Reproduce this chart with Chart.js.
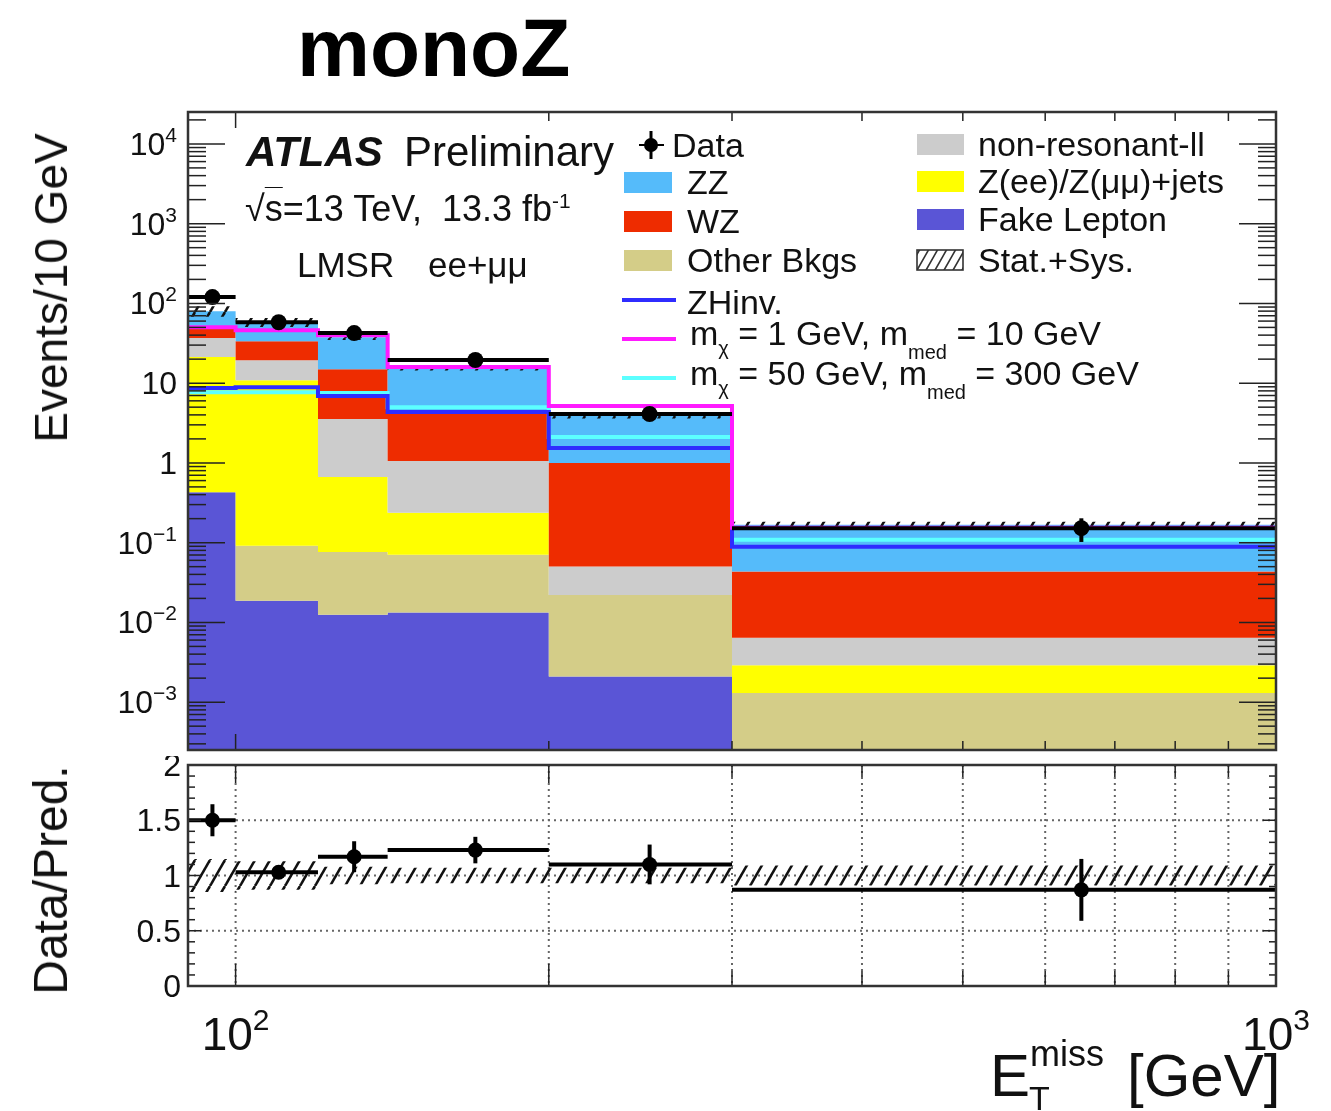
<!DOCTYPE html>
<html>
<head>
<meta charset="utf-8">
<title>monoZ</title>
<script src="https://cdn.jsdelivr.net/npm/chart.js@4.4.1/dist/chart.umd.min.js"></script>
<style>
  html, body { margin: 0; padding: 0; background: #fff; }
  body {
    position: relative; width: 1331px; height: 1111px; overflow: hidden;
    font-family: "Liberation Sans", Arial, Helvetica, sans-serif; color: #111;
  }
  canvas { position: absolute; left: 0; }
  #mainCanvas { top: 0; }
  #ratioCanvas { top: 756px; }
  .txt { position: absolute; white-space: nowrap; line-height: 1; }
  .vert {
    position: absolute; white-space: nowrap; line-height: 1;
    transform: translate(-50%, -50%) rotate(-90deg);
  }
  .sup { position: relative; top: -0.6em; font-size: 0.58em; vertical-align: baseline; }
  .subx { position: relative; top: 10px; font-size: 20px; vertical-align: baseline; }
  .subm { position: relative; top: 14px; font-size: 20px; vertical-align: baseline; }
  .sw { position: absolute; }
</style>
</head>
<body>
<canvas id="mainCanvas" width="1331" height="758"></canvas>
<canvas id="ratioCanvas" width="1331" height="355"></canvas>
<script>
// --- Binning and yields (events / 10 GeV) ---
const binEdges   = [90, 100, 120, 140, 200, 300, 1000];
const fakeLepton = [0.43, 0.0187, 0.0125, 0.0133, 0.0021, 0];
const otherBkgs  = [0, 0.073, 0.064, 0.057, 0.020, 0.0013];
const zJets      = [20.8, 10.8, 0.59, 0.166, 0, 0.0016];
const nonResLL   = [15.5, 8.5, 2.89, 0.82, 0.028, 0.0035];
const wzBkg      = [15.2, 14.1, 11.4, 3.29, 0.95, 0.037];
const zzBkg      = [28.0, 24.6, 22.8, 11.1, 2.87, 0.124];
const systRel    = [0.15, 0.13, 0.08, 0.07, 0.07, 0.09];

// signal hypotheses
const zhInv   = [8.7, 8.9, 6.9, 4.35, 1.54, 0.089];
const sigMx1  = [50.4, 46.2, 40.0, 15.9, 5.17, 0.154];
const sigMx50 = [7.7, 7.7, 7.5, 5.0, 2.11, 0.109];

// observed
const dataVals  = [120, 58, 42.4, 19.5, 4.1, 0.152];
const dataErr   = [12, 6, 5, 2.2, 0.7, 0.05];
const ratioVals = [1.50, 1.03, 1.17, 1.23, 1.10, 0.87];
const ratioErr  = [0.145, 0.06, 0.14, 0.12, 0.18, 0.28];

// axis ticks
const yDecades    = [-3, -2, -1, 0, 1, 2, 3, 4];
const ratioTicks  = [0, 0.5, 1, 1.5, 2];
const ratioLabels = ['0', '0.5', '1', '1.5', '2'];
const xDecades    = [2, 3];

// colours
const colFake  = '#5a55d6';
const colOther = '#d4cd88';
const colZjets = '#ffff00';
const colNonRes = '#cccccc';
const colWZ    = '#ee2c00';
const colZZ    = '#55bbfa';
const colZH    = '#2f2cff';
const colMx1   = '#ff1aff';
const colMx50  = '#5cffff';

const FONT = '"Liberation Sans", Arial, Helvetica, sans-serif';
const FLOOR = 1e-5; // log axis can't take zero

const binCentres = binEdges.slice(1).map((hi, i) => (binEdges[i] + hi) / 2);

// turn per-bin values into a step outline
function steps(vals) {
  const pts = [];
  vals.forEach(function(v, i) {
    const y = Math.max(v, FLOOR);
    pts.push({x: binEdges[i], y: y});
    pts.push({x: binEdges[i + 1], y: y});
  });
  return pts;
}

// stacked background tops
const components = [
  {label: 'Fake Lepton', vals: fakeLepton, color: colFake},
  {label: 'Other Bkgs', vals: otherBkgs, color: colOther},
  {label: 'Z(ee)/Z(μμ)+jets', vals: zJets, color: colZjets},
  {label: 'non-resonant-ll', vals: nonResLL, color: colNonRes},
  {label: 'WZ', vals: wzBkg, color: colWZ},
  {label: 'ZZ', vals: zzBkg, color: colZZ}
];
let running = zzBkg.map(() => 0);
const stackTops = components.map(function(c) {
  running = running.map((r, i) => r + c.vals[i]);
  return running.slice();
});
const total = stackTops[stackTops.length - 1];

function hatchPattern(ctx) {
  const tile = document.createElement('canvas');
  tile.width = 15; tile.height = 26;
  const t = tile.getContext('2d');
  t.strokeStyle = '#111';
  t.lineWidth = 2.6;
  for (let k = -1; k <= 1; k++) {
    t.beginPath();
    t.moveTo(k * 15, 26);
    t.lineTo(k * 15 + 15, 0);
    t.stroke();
  }
  return ctx.createPattern(tile, 'repeat');
}

function line(ctx, x1, y1, x2, y2) {
  ctx.beginPath(); ctx.moveTo(x1, y1); ctx.lineTo(x2, y2); ctx.stroke();
}

// "10^n" label, right edge at xRight, centred on yMid
function drawPow(ctx, exp, xRight, yMid) {
  ctx.fillStyle = '#111';
  ctx.textAlign = 'right';
  ctx.textBaseline = 'alphabetic';
  if (exp === 0 || exp === 1) {
    ctx.font = '32px ' + FONT;
    ctx.fillText(exp === 0 ? '1' : '10', xRight, yMid + 11);
    return;
  }
  const sup = exp < 0 ? '\u2212' + (-exp) : String(exp);
  ctx.font = '21px ' + FONT;
  const sw = ctx.measureText(sup).width;
  ctx.fillText(sup, xRight, yMid - 2);
  ctx.font = '32px ' + FONT;
  ctx.fillText('10', xRight - sw, yMid + 11);
}

// data points: horizontal bin-width bar plus vertical error
const dataBars = {
  id: 'dataBars',
  afterDatasetsDraw(chart, args, opts) {
    const {ctx, scales: {x, y}} = chart;
    ctx.save();
    ctx.strokeStyle = '#000';
    ctx.lineWidth = opts.width;
    opts.values.forEach(function(v, i) {
      const py = y.getPixelForValue(v);
      line(ctx, x.getPixelForValue(binEdges[i]), py, x.getPixelForValue(binEdges[i + 1]), py);
      const px = x.getPixelForValue(binCentres[i]);
      line(ctx, px, y.getPixelForValue(v + opts.errors[i]), px, y.getPixelForValue(v - opts.errors[i]));
    });
    ctx.restore();
  }
};

// ATLAS-style frame with inward ticks on all sides
const mainAxes = {
  id: 'mainAxes',
  afterDraw(chart) {
    const {ctx, chartArea: ca, scales: {x, y}} = chart;
    ctx.save();
    ctx.strokeStyle = '#222';
    ctx.lineWidth = 1.5;
    for (let d = -4; d <= 4; d++) {
      for (let m = 1; m <= 9; m++) {
        const v = m * Math.pow(10, d);
        if (v < y.min || v > y.max) continue;
        const py = y.getPixelForValue(v);
        const len = m === 1 ? 37 : 18;
        line(ctx, ca.left, py, ca.left + len, py);
        line(ctx, ca.right - len, py, ca.right, py);
      }
    }
    for (let d = 1; d <= 3; d++) {
      for (let m = 1; m <= 9; m++) {
        const v = m * Math.pow(10, d);
        if (v <= x.min || v >= x.max) continue;
        const px = x.getPixelForValue(v);
        const len = m === 1 ? 16 : 9;
        line(ctx, px, ca.top, px, ca.top + len);
        line(ctx, px, ca.bottom - len, px, ca.bottom);
      }
    }
    ctx.lineWidth = 2.5;
    ctx.strokeStyle = '#333';
    ctx.strokeRect(ca.left, ca.top, ca.right - ca.left, ca.bottom - ca.top);
    yDecades.forEach(function(d) {
      drawPow(ctx, d, 177, y.getPixelForValue(Math.pow(10, d)));
    });
    ctx.restore();
  }
};

const ratioAxes = {
  id: 'ratioAxes',
  beforeDatasetsDraw(chart) {
    const {ctx, chartArea: ca, scales: {x, y}} = chart;
    ctx.save();
    ctx.strokeStyle = '#666';
    ctx.lineWidth = 2;
    ctx.setLineDash([2, 4]);
    for (let v = 100; v < 1000; v += 100) {
      const px = x.getPixelForValue(v);
      line(ctx, px, ca.top, px, ca.bottom);
    }
    [0.5, 1, 1.5].forEach(function(v) {
      const py = y.getPixelForValue(v);
      line(ctx, ca.left, py, ca.right, py);
    });
    ctx.restore();
  },
  afterDraw(chart) {
    const {ctx, chartArea: ca, scales: {x, y}} = chart;
    ctx.save();
    ctx.strokeStyle = '#222';
    ctx.lineWidth = 1.5;
    for (let i = 1; i < 20; i++) {
      const py = y.getPixelForValue(i / 10);
      const len = i % 5 === 0 ? 13 : 7;
      line(ctx, ca.left, py, ca.left + len, py);
      line(ctx, ca.right - len, py, ca.right, py);
    }
    for (let d = 1; d <= 3; d++) {
      for (let m = 1; m <= 9; m++) {
        const v = m * Math.pow(10, d);
        if (v <= x.min || v >= x.max) continue;
        const px = x.getPixelForValue(v);
        const major = m === 1 || v === 200;
        line(ctx, px, ca.top, px, ca.top + (major ? 18 : 12));
        line(ctx, px, ca.bottom - (major ? 22 : 15), px, ca.bottom);
      }
    }
    ctx.lineWidth = 2.5;
    ctx.strokeStyle = '#333';
    ctx.strokeRect(ca.left, ca.top, ca.right - ca.left, ca.bottom - ca.top);

    ctx.fillStyle = '#111';
    ctx.font = '32px ' + FONT;
    ctx.textAlign = 'right';
    ratioTicks.forEach(function(v, i) {
      ctx.fillText(ratioLabels[i], 181, y.getPixelForValue(v) + 11);
    });

    // x tick labels 10^2, 10^3
    xDecades.forEach(function(d) {
      const px = x.getPixelForValue(Math.pow(10, d));
      ctx.font = '46px ' + FONT;
      const bw = ctx.measureText('10').width;
      ctx.font = '30px ' + FONT;
      const sw = ctx.measureText(String(d)).width;
      const left = px - (bw + sw) / 2;
      ctx.textAlign = 'left';
      ctx.font = '46px ' + FONT;
      ctx.fillText('10', left, 294);
      ctx.font = '30px ' + FONT;
      ctx.fillText(String(d), left + bw, 274);
    });
    ctx.restore();
  }
};

// --- upper panel ---
const mainCtx = document.getElementById('mainCanvas').getContext('2d');
const hatchMain = hatchPattern(mainCtx);

const stackSets = components.map(function(c, i) {
  return {
    label: c.label,
    data: steps(stackTops[i]),
    backgroundColor: c.color,
    borderWidth: 0,
    pointRadius: 0,
    fill: i === 0 ? 'start' : '-1',
    order: 10 - i
  };
});

new Chart(mainCtx, {
  type: 'line',
  data: {
    datasets: stackSets.concat([
      {
        label: 'Stat.+Sys.',
        data: steps(total.map((t, i) => t * (1 + systRel[i]))),
        backgroundColor: hatchMain,
        borderWidth: 0, pointRadius: 0, fill: '+1', order: 3
      },
      {
        label: 'band low',
        data: steps(total.map((t, i) => t * (1 - systRel[i]))),
        borderWidth: 0, pointRadius: 0, fill: false, order: 3
      },
      { label: 'ZHinv.', data: steps(zhInv), borderColor: colZH, borderWidth: 4, pointRadius: 0, fill: false, order: 2 },
      { label: 'mx 50', data: steps(sigMx50), borderColor: colMx50, borderWidth: 4, pointRadius: 0, fill: false, order: 2 },
      { label: 'mx 1', data: steps(sigMx1), borderColor: colMx1, borderWidth: 4, pointRadius: 0, fill: false, order: 1 },
      {
        label: 'Data',
        data: dataVals.map((v, i) => ({x: binCentres[i], y: v})),
        showLine: false,
        pointRadius: 8,
        pointBackgroundColor: '#000',
        pointBorderWidth: 0,
        order: 0
      }
    ])
  },
  options: {
    responsive: false,
    animation: false,
    events: [],
    layout: { padding: { left: 188, top: 112, right: 55, bottom: 7 } },
    plugins: {
      legend: { display: false },
      tooltip: { enabled: false },
      dataBars: { values: dataVals, errors: dataErr, width: 4 }
    },
    scales: {
      x: { type: 'logarithmic', min: 90, max: 1000, display: false },
      y: { type: 'logarithmic', min: Math.pow(10, -3.6), max: Math.pow(10, 4.4), display: false }
    },
    elements: { line: { tension: 0 } }
  },
  plugins: [dataBars, mainAxes]
});

// --- ratio panel ---
const ratioCtx = document.getElementById('ratioCanvas').getContext('2d');
const hatchRatio = hatchPattern(ratioCtx);

new Chart(ratioCtx, {
  type: 'line',
  data: {
    datasets: [
      {
        label: 'band high',
        data: steps(systRel.map(e => 1 + e)),
        backgroundColor: hatchRatio,
        borderWidth: 0, pointRadius: 0, fill: '+1', order: 2
      },
      {
        label: 'band low',
        data: steps(systRel.map(e => 1 - e)),
        borderWidth: 0, pointRadius: 0, fill: false, order: 2
      },
      {
        label: 'Data/Pred.',
        data: ratioVals.map((v, i) => ({x: binCentres[i], y: v})),
        showLine: false,
        pointRadius: 7.5,
        pointBackgroundColor: '#000',
        pointBorderWidth: 0,
        order: 0
      }
    ]
  },
  options: {
    responsive: false,
    animation: false,
    events: [],
    layout: { padding: { left: 188, top: 9, right: 55, bottom: 125 } },
    plugins: {
      legend: { display: false },
      tooltip: { enabled: false },
      dataBars: { values: ratioVals, errors: ratioErr, width: 4 }
    },
    scales: {
      x: { type: 'logarithmic', min: 90, max: 1000, display: false },
      y: { type: 'linear', min: 0, max: 2, display: false }
    },
    elements: { line: { tension: 0 } }
  },
  plugins: [ratioAxes, dataBars]
});

// --- text, legend ---
function addText(html, left, baseline, size, style) {
  const el = document.createElement('div');
  el.className = 'txt';
  el.innerHTML = html;
  el.style.left = left + 'px';
  el.style.top = (baseline - 0.8465 * size) + 'px';
  el.style.fontSize = size + 'px';
  if (style) Object.assign(el.style, style);
  document.body.appendChild(el);
  return el;
}

function addVert(text, cx, cy, size) {
  const el = document.createElement('div');
  el.className = 'vert';
  el.textContent = text;
  el.style.left = cx + 'px';
  el.style.top = cy + 'px';
  el.style.fontSize = size + 'px';
  document.body.appendChild(el);
}

function addBox(left, cy, w, h, color) {
  const el = document.createElement('div');
  el.className = 'sw';
  Object.assign(el.style, {
    left: left + 'px', top: (cy - h / 2) + 'px', width: w + 'px', height: h + 'px', background: color
  });
  document.body.appendChild(el);
}

function addSvg(html, left, top, w, h) {
  const el = document.createElement('div');
  el.className = 'sw';
  Object.assign(el.style, { left: left + 'px', top: top + 'px', width: w + 'px', height: h + 'px' });
  el.innerHTML = html;
  document.body.appendChild(el);
}

addText('monoZ', 297, 76, 82, { fontWeight: 'bold', color: '#000' });
addText('ATLAS', 246, 167, 42, { fontWeight: 'bold', fontStyle: 'italic' });
addText('Preliminary', 404, 167, 42);
addText('√<span style="text-decoration: overline; text-decoration-thickness: 1px;">s</span>=13 TeV,&nbsp; 13.3 fb<span class="sup">-1</span>', 245, 221, 36);
addText('LMSR', 297, 277, 35);
addText('ee+μμ', 428, 277, 35);

// legend, left column
const LF = 34;
addSvg('<svg width="40" height="34"><circle cx="15" cy="15" r="7" fill="#000"/>' +
       '<line x1="15" y1="1" x2="15" y2="29" stroke="#000" stroke-width="3"/>' +
       '<line x1="3" y1="15" x2="28" y2="15" stroke="#000" stroke-width="2"/></svg>', 636, 130, 40, 34);
addText('Data', 672, 157, LF);
[[colZZ, 'ZZ', 182], [colWZ, 'WZ', 221], [colOther, 'Other Bkgs', 260]].forEach(function(r) {
  addBox(624, r[2], 48, 21, r[0]);
  addText(r[1], 687, r[2] + 12, LF);
});
addBox(622, 300, 54, 4, colZH);
addText('ZHinv.', 687, 314, LF);
addBox(622, 339, 54, 4, colMx1);
addText('m<span class="subx">χ</span> = 1 GeV, m<span class="subm">med</span> = 10 GeV', 690, 345, LF);
addBox(622, 378, 54, 4, colMx50);
addText('m<span class="subx">χ</span> = 50 GeV, m<span class="subm">med</span> = 300 GeV', 690, 385, LF);

// legend, right column
[[colNonRes, 'non-resonant-ll', 144], [colZjets, 'Z(ee)/Z(μμ)+jets', 181], [colFake, 'Fake Lepton', 219]].forEach(function(r) {
  addBox(917, r[2], 47, 21, r[0]);
  addText(r[1], 978, r[2] + 12, LF);
});
addSvg('<svg width="48" height="23"><defs><pattern id="hl" width="9" height="23" patternUnits="userSpaceOnUse">' +
       '<path d="M-9,23 L4,0 M0,23 L13,0 M9,23 L22,0" stroke="#333" stroke-width="1.6"/></pattern></defs>' +
       '<rect x="1" y="1" width="46" height="20" fill="url(#hl)" stroke="#333" stroke-width="1.6"/></svg>', 916, 249, 48, 23);
addText('Stat.+Sys.', 978, 272, LF);

// axis titles
addVert('Events/10 GeV', 51, 288, 46);
addVert('Data/Pred.', 51, 880, 48);
addText('E', 990, 1097, 60);
addText('T', 1029, 1110, 34);
addText('miss', 1030, 1066, 36);
addText('[GeV]', 1127, 1097, 60);
</script>
</body>
</html>
